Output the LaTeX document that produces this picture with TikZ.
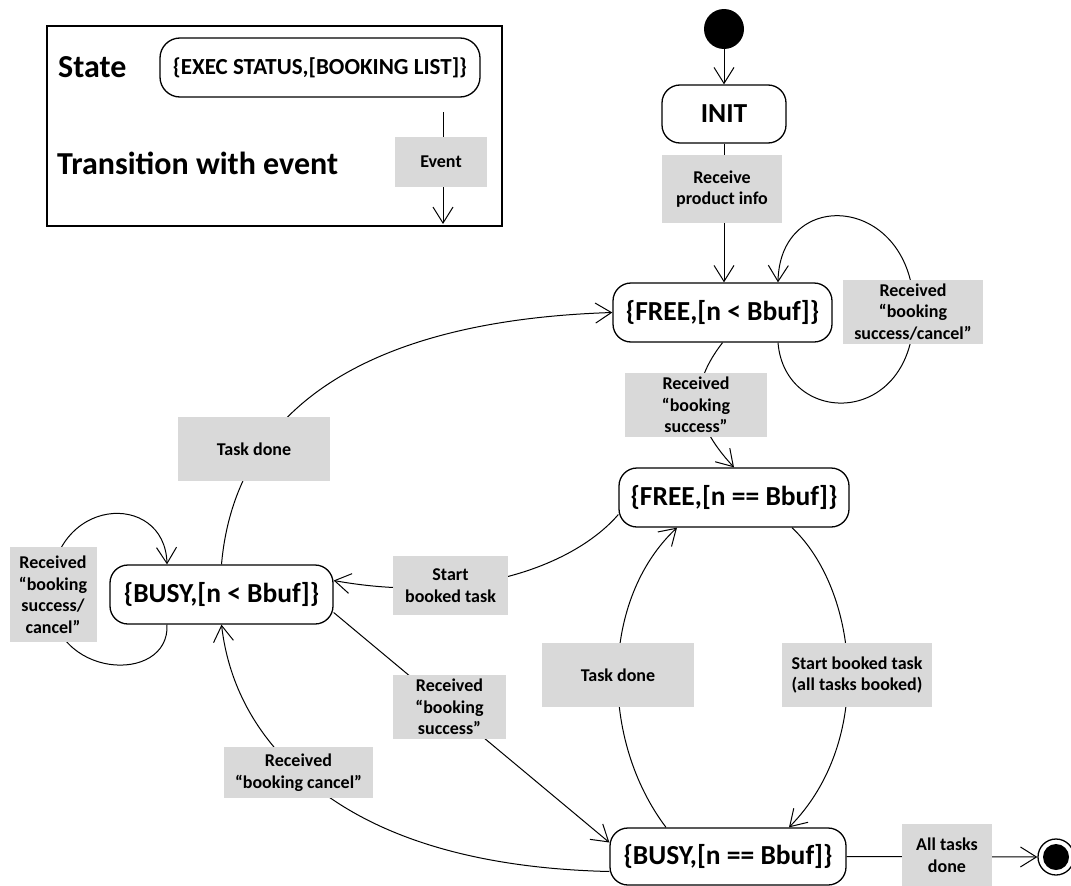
\documentclass[tikz,border=0pt]{standalone}
\usepackage{fontspec}
\setmainfont{Carlito}
\usetikzlibrary{arrows.meta}
\definecolor{labelgrey}{RGB}{217,217,217}
\begin{document}
\begin{tikzpicture}[x=1pt,y=-1pt,
  state/.style={draw, line width=1.3pt, rounded corners=18pt, fill=white, inner sep=0pt,
                font=\bfseries\fontsize{27.5}{32}\selectfont},
  evt/.style={fill=labelgrey, inner sep=0pt, align=center,
              font=\bfseries\fontsize{18}{21.5}\selectfont},
  tr/.style={line width=1pt, -{Straight Barb[length=16pt,width=20pt]}},
  legendtxt/.style={anchor=base west, inner sep=0pt, font=\bfseries\fontsize{32}{37}\selectfont},
]
\useasboundingbox (0,0) rectangle (1071,886);

% ---------- legend ----------
\node[draw, line width=1.3pt, minimum width=455pt, minimum height=200pt, inner sep=0pt] (legend) at (274.5,126) {};
\node[legendtxt] (lgStateWord) at (58,77) {State};
\node[legendtxt] (lgTransWord) at (57,174) {Transition with event};
\node[state, rounded corners=20pt, minimum width=320pt, minimum height=59pt,
      font=\bfseries\fontsize{23}{27}\selectfont] (lgState) at (320,67.5) {\{EXEC STATUS,[BOOKING LIST]\}};
\coordinate (lgFrom) at (443,112);
\coordinate (lgTo) at (443,224);
\draw[tr] (lgFrom) -- (lgTo);
\node[evt, minimum width=92pt, minimum height=50pt] (lgEvent) at (441,162) {Event};

% ---------- states ----------
\node[circle, fill=black, minimum size=40pt, inner sep=0pt] (start) at (724,29) {};
\node[state, minimum width=124pt, minimum height=58pt] (init) at (724,114) {INIT};
\node[state, minimum width=219pt, minimum height=59pt] (free1) at (722.5,312.5) {\{FREE,[n < Bbuf]\}};
\node[state, minimum width=230pt, minimum height=59pt] (free2) at (734,497.5) {\{FREE,[n == Bbuf]\}};
\node[state, minimum width=223pt, minimum height=59pt] (busy1) at (221.5,594.5) {\{BUSY,[n < Bbuf]\}};
\node[state, minimum width=236pt, minimum height=57pt] (busy2) at (728,856.5) {\{BUSY,[n == Bbuf]\}};
\node[circle, draw, line width=1.3pt, minimum size=36pt, inner sep=0pt] (final) at (1056,857) {};
\node[circle, fill=black, minimum size=26pt, inner sep=0pt] (finalcore) at (final.center) {};

% ---------- transitions ----------
\draw[tr] (start.south) -- (init.north);
\draw[tr] (init.south) -- (init.south |- free1.north);
\draw[tr] ([xshift=55.5pt]free1.south) .. controls (785,428) and (915,428) .. (914,310)
          .. controls (913,195) and (780,185) .. ([xshift=55.5pt]free1.north);
\draw[tr] (free1.south) .. controls (690,385) and (690,420) .. (free2.north);
\draw[tr] (busy1.north) .. controls (236,400) and (380,320) .. (free1.west);
\draw[tr] ([yshift=-17pt]free2.west) .. controls (575,565) and (470,605) .. ([yshift=14pt]busy1.east);
\draw[tr] ([xshift=-54.5pt]busy1.south) .. controls (170,685) and (50,680) .. (50,595)
          .. controls (50,495) and (165,490) .. ([xshift=-54.5pt]busy1.north);
\draw[tr] ([yshift=-18pt]busy1.east) -- ([yshift=14pt]busy2.west);
\draw[tr] ([yshift=-15pt]busy2.west) .. controls (460,868) and (360,830) .. (298,772)
          .. controls (252,730) and (228,680) .. (busy1.south);
\draw[tr] ([xshift=-62pt]busy2.north) .. controls (600,740) and (600,600) .. ([xshift=-57pt]free2.south);
\draw[tr] ([xshift=58pt]free2.south) .. controls (858,590) and (875,740) .. ([xshift=61pt]busy2.north);
\draw[tr] (busy2.east) -- (final.west);

% ---------- events ----------
\node[evt, minimum width=120pt, minimum height=68pt] (evInfo) at (722,189) {Receive\\product info};
\node[evt, minimum width=140pt, minimum height=64pt] (evLoopFree) at (913,312) {Received\\“booking\\success/cancel”};
\node[evt, minimum width=142pt, minimum height=64pt] (evSuccFree) at (696,405) {Received\\“booking\\success”};
\node[evt, minimum width=152pt, minimum height=64pt] (evDoneUp) at (254,449) {Task done};
\node[evt, minimum width=115pt, minimum height=59pt] (evStart) at (450.5,585.5) {Start\\booked task};
\node[evt, minimum width=87pt, minimum height=95pt] (evLoopBusy) at (53,594.5) {Received\\“booking\\success/\\cancel”};
\node[evt, minimum width=113pt, minimum height=64pt] (evSuccBusy) at (449.5,707) {Received\\“booking\\success”};
\node[evt, minimum width=149pt, minimum height=51pt] (evCancel) at (298.5,772.5) {Received\\“booking cancel”};
\node[evt, minimum width=152pt, minimum height=64pt] (evDoneLow) at (618,675) {Task done};
\node[evt, minimum width=150pt, minimum height=64pt] (evAllBooked) at (857,675) {Start booked task\\(all tasks booked)};
\node[evt, minimum width=90pt, minimum height=62pt] (evAllDone) at (947,855) {All tasks\\done};
\end{tikzpicture}
\end{document}
